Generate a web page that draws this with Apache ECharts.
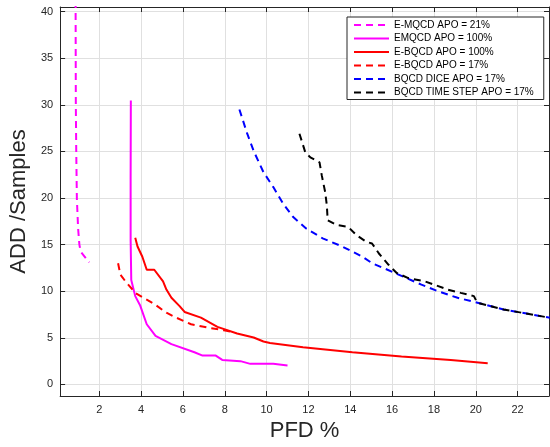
<!DOCTYPE html>
<html>
<head>
<meta charset="utf-8">
<script src="https://cdn.jsdelivr.net/npm/echarts@6/dist/echarts.min.js"></script>
<style>
html,body{margin:0;padding:0;background:#fff;}
#chart{width:550px;height:447px;}
</style>
</head>
<body>
<div id="chart"></div>
<script>
// ---- data ----
const xTicks = [2, 4, 6, 8, 10, 12, 14, 16, 18, 20, 22];
const yTicks = [0, 5, 10, 15, 20, 25, 30, 35, 40];

const seriesNames = [
  'E-MQCD APO = 21%',
  'EMQCD APO = 100%',
  'E-BQCD APO = 100%',
  'E-BQCD APO = 17%',
  'BQCD DICE APO = 17%',
  'BQCD TIME STEP APO = 17%'
];

const emqcd21X = [0.87, 0.87, 0.88, 0.90, 0.93, 0.99, 1.05, 1.11, 1.36, 1.52];
const emqcd21Y = [45, 40, 30, 25, 19.9, 16.7, 15.0, 14.25, 13.54, 13.1];

const emqcd100X = [3.51, 3.50, 3.50, 3.53, 3.72, 3.95, 4.27, 4.69, 5.45, 6.55, 6.94, 7.57, 7.88, 8.75, 9.22, 10.32, 11.0];
const emqcd100Y = [30.46, 22, 15.5, 11.2, 9.47, 8.5, 6.45, 5.2, 4.32, 3.44, 3.09, 3.09, 2.62, 2.49, 2.2, 2.2, 2.02];

const ebqcd100X = [3.72, 3.83, 4.06, 4.27, 4.63, 5.05, 5.21, 5.45, 5.84, 6.08, 6.86, 7.65, 8.59, 9.38, 9.85, 10.16, 11.74, 14.1, 16.45, 18.8, 20.57];
const ebqcd100Y = [15.74, 14.8, 13.7, 12.3, 12.3, 11.06, 10.17, 9.29, 8.4, 7.77, 7.16, 6.17, 5.46, 5.03, 4.6, 4.43, 3.97, 3.44, 3.0, 2.62, 2.27];

const ebqcd17X = [2.9, 3.01, 3.25, 3.72, 4.11, 4.66, 5.21, 5.68, 6.39, 7.17, 7.96, 8.28];
const ebqcd17Y = [13.0, 11.77, 11.06, 9.82, 9.29, 8.58, 7.69, 7.16, 6.45, 6.1, 5.8, 5.67];

const diceX = [8.70, 9.06, 9.38, 9.85, 10.32, 10.79, 11.26, 11.89, 12.68, 13.62, 14.57, 15.04, 16.14, 17.40, 18.19, 19.13, 20.08, 21.33, 23.6];
const diceY = [29.5, 27.0, 25.06, 22.77, 21.17, 19.4, 17.98, 16.73, 15.67, 14.79, 13.72, 13.01, 11.95, 10.7, 10.0, 9.29, 8.76, 8.04, 7.12];

const timeX = [11.57, 11.85, 12.09, 12.53, 12.64, 12.8, 12.88, 12.92, 13.35, 13.9, 14.3, 14.77, 15.04, 15.36, 15.83, 16.22, 16.77, 17.56, 18.66, 19.28, 19.91, 20.07, 21.33, 23.6];
const timeY = [26.9, 24.9, 24.36, 23.83, 22.4, 20.64, 19.2, 17.6, 17.1, 16.9, 16.0, 15.3, 15.12, 14.07, 12.83, 11.95, 11.41, 11.06, 10.17, 9.82, 9.47, 8.76, 8.04, 7.12];

// ---- build ----
function pairs(xs, ys) { return xs.map((x, i) => [x, ys[i]]); }
const FONT = "'Liberation Sans', Arial, Helvetica, sans-serif";
const AX = '#262626';
const GRID = '#e0e0e0';
const DASH = [7, 5];

function mkSeries(name, xs, ys, color, dashed) {
  return {
    name: name, type: 'line', data: pairs(xs, ys),
    symbol: 'none', smooth: false, clip: true, animation: false,
    lineStyle: { color: color, width: 2, type: dashed ? DASH : 'solid' },
    itemStyle: { color: color }
  };
}

const xMin = 0.13, xMax = 23.5, yMin = -1.25, yMax = 40.5;

const tickStyle = { show: true, inside: true, length: 5, lineStyle: { color: AX, width: 1 } };

const option = {
  animation: false,
  backgroundColor: '#fff',
  grid: { left: 54, top: 7, right: 1, bottom: 48, containLabel: false },
  xAxis: [{
    type: 'value', min: xMin, max: xMax, position: 'bottom',
    axisLine: { show: true, onZero: false, lineStyle: { color: AX, width: 1 } },
    axisTick: Object.assign({ customValues: xTicks }, tickStyle),
    axisLabel: { customValues: xTicks, color: AX, fontSize: 11, fontFamily: FONT, margin: 8 },
    splitLine: { show: true, lineStyle: { color: GRID, width: 1 } },
    name: 'PFD %', nameLocation: 'middle', nameGap: 24,
    nameTextStyle: { fontSize: 22, fontFamily: FONT, color: AX }
  }, {
    type: 'value', min: xMin, max: xMax, position: 'top',
    axisLine: { show: true, onZero: false, lineStyle: { color: AX, width: 1 } },
    axisTick: Object.assign({ customValues: xTicks }, tickStyle),
    axisLabel: { show: false, customValues: xTicks },
    splitLine: { show: false }
  }],
  yAxis: [{
    type: 'value', min: yMin, max: yMax, position: 'left',
    axisLine: { show: true, onZero: false, lineStyle: { color: AX, width: 1 } },
    axisTick: Object.assign({ customValues: yTicks }, tickStyle),
    axisLabel: { customValues: yTicks, color: AX, fontSize: 11, fontFamily: FONT, margin: 7 },
    splitLine: { show: true, lineStyle: { color: GRID, width: 1 } },
    name: 'ADD /Samples', nameLocation: 'middle', nameGap: 25,
    nameTextStyle: { fontSize: 22, fontFamily: FONT, color: AX }
  }, {
    type: 'value', min: yMin, max: yMax, position: 'right',
    axisLine: { show: true, onZero: false, lineStyle: { color: AX, width: 1 } },
    axisTick: Object.assign({ customValues: yTicks }, tickStyle),
    axisLabel: { show: false, customValues: yTicks },
    splitLine: { show: false }
  }],
  legend: {
    orient: 'vertical', left: 347, top: 17,
    padding: [3, 10, 2, 6],
    itemWidth: 35, itemHeight: 10, itemGap: 3.5,
    borderColor: AX, borderWidth: 1, backgroundColor: '#fff',
    itemStyle: { opacity: 0 },
    textStyle: { fontSize: 10, fontFamily: FONT, color: '#000', lineHeight: 10 },
    data: seriesNames
  },
  series: [
    mkSeries(seriesNames[0], emqcd21X, emqcd21Y, '#ff00ff', true),
    mkSeries(seriesNames[1], emqcd100X, emqcd100Y, '#ff00ff', false),
    mkSeries(seriesNames[2], ebqcd100X, ebqcd100Y, '#ff0000', false),
    mkSeries(seriesNames[3], ebqcd17X, ebqcd17Y, '#ff0000', true),
    mkSeries(seriesNames[4], diceX, diceY, '#0000ff', true),
    mkSeries(seriesNames[5], timeX, timeY, '#000000', true)
  ]
};

const chart = echarts.init(document.getElementById('chart'), null, { renderer: 'canvas' });
chart.setOption(option);
</script>
</body>
</html>
